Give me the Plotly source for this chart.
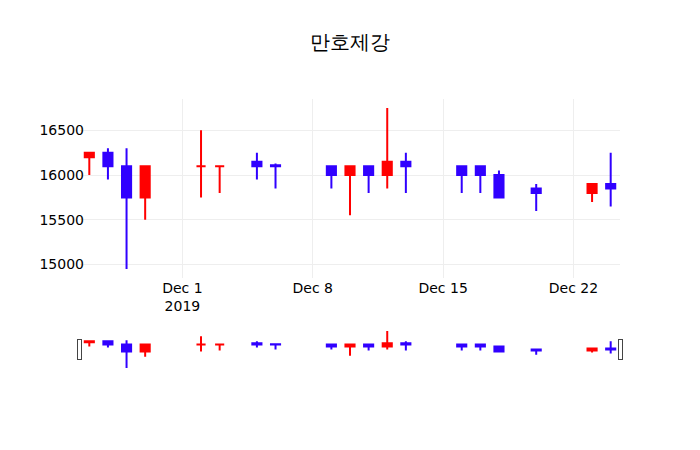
import plotly.graph_objects as go

dates = ['2019-11-26', '2019-11-27', '2019-11-28', '2019-11-29',
         '2019-12-02', '2019-12-03', '2019-12-05', '2019-12-06',
         '2019-12-09', '2019-12-10', '2019-12-11', '2019-12-12', '2019-12-13',
         '2019-12-16', '2019-12-17', '2019-12-18', '2019-12-20',
         '2019-12-23', '2019-12-24']
opens = [16200, 16250, 16100, 15750,
         16100, 16100, 16150, 16110,
         16100, 16000, 16100, 16000, 16150,
         16100, 16100, 16000, 15850,
         15800, 15900]
highs = [16250, 16300, 16300, 16100,
         16500, 16100, 16250, 16130,
         16100, 16100, 16100, 16750, 16250,
         16100, 16100, 16050, 15900,
         15900, 16250]
lows = [16000, 15950, 14950, 15500,
        15750, 15800, 15950, 15850,
        15850, 15550, 15800, 15850, 15800,
        15800, 15800, 15750, 15600,
        15700, 15650]
closes = [16250, 16100, 15750, 16100,
          16100, 16100, 16100, 16100,
          16000, 16100, 16000, 16150, 16100,
          16000, 16000, 15750, 15800,
          15900, 15850]

fig = go.Figure(go.Candlestick(
    x=dates,
    open=opens,
    high=highs,
    low=lows,
    close=closes,
    increasing=dict(line=dict(color='#ff0000'), fillcolor='#ff0000'),
    decreasing=dict(line=dict(color='#3000ff'), fillcolor='#3000ff'),
))

# page body has an 8px margin, so shift the margins to land the plot where the reference has it
fig.update_layout(
    width=692,
    height=442,
    margin=dict(l=72, r=80, t=91, b=80),
    title=dict(text='만호제강', x=0.5, xref='paper', y=0.923, yanchor='middle',
               font=dict(size=20, color='black')),
    font=dict(family='DejaVu Sans', size=14, color='black'),
    plot_bgcolor='white',
    showlegend=False,
    xaxis=dict(gridcolor='#eeeeee', tickfont=dict(size=14)),
    yaxis=dict(gridcolor='#eeeeee', tickformat='d', tickfont=dict(size=14),
               ticklabelstandoff=-5),
)

fig.write_html("out.html")
